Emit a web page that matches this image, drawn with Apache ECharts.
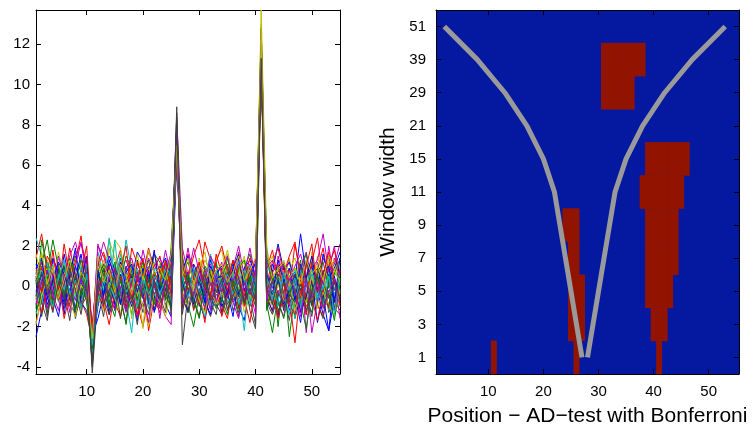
<!DOCTYPE html>
<html><head><meta charset="utf-8">
<script src="https://cdn.jsdelivr.net/npm/echarts@6/dist/echarts.min.js"></script>
<style>html,body{margin:0;padding:0;background:#fff}#c{width:753px;height:428px}</style>
</head><body><div id="c"></div>
<script>
// ---------- Left panel: traces (x = 1..55) ----------
const xTicksLeft = [10, 20, 30, 40, 50];
const yTicksLeft = [-4, -2, 0, 2, 4, 6, 8, 10, 12];
const traceColors = ['#0000ff', '#008000', '#ff0000', '#00bfbf', '#bf00bf', '#bfbf00', '#404040'];

const trace01 = [0.3,-0.8,1.2,0.5,-0.4,1.6,0.2,-1.1,0.7,0.1,-2.9, 0.6,-0.3,1.1,-1.2,0.4,0.9,-0.6,1.3,0.2,-0.9,0.5, 1.0,-0.2,0.8,7.1,0.4,-1.3,0.6,1.2,-0.5,0.3,-1.0, 0.9,0.2,-0.7,1.4,0.1,-0.4,0.8,11.6,-0.3,1.1,0.5, -1.2,0.4,0.7,-0.5,1.3,0.2,-0.8,0.6,1.5,-0.2,0.3];
const trace02 = [-0.5,0.9,-1.3,0.2,1.1,-0.7,0.4,0.8,-1.0,0.6,-2.4, 1.2,0.3,-0.9,0.5,1.4,-0.2,-1.4,0.7,1.0,-0.5,0.2, -0.8,1.3,0.1,7.4,1.5,0.2,-0.6,0.9,-1.2,0.4,1.1, -0.3,0.6,1.2,-1.1,0.3,0.8,-0.5,12.2,0.7,-0.9,0.4, 1.0,-0.6,0.2,1.3,-1.4,0.5,0.9,-0.3,0.6,-1.1,0.8];
const trace03 = [1.4,2.6,0.8,-0.3,1.0,0.2,1.9,0.5,-0.6,1.3,-2.2, 0.4,1.1,-0.5,0.9,1.8,0.3,-0.7,1.2,0.6,1.9,0.8, 1.5,0.2,1.1,6.8,0.5,1.6,0.9,0.1,2.2,1.3,0.6, -0.4,1.0,0.3,1.7,-0.8,0.6,1.4,11.2,0.9,1.8,0.4, 1.1,-0.3,2.1,0.5,1.2,-0.6,0.8,1.9,0.2,1.4,0.7];
const trace04 = [2.4,1.5,0.3,0.9,-0.2,1.2,0.6,-0.5,0.8,0.4,-3.1, 1.7,0.5,-0.3,1.1,0.2,2.3,0.8,-0.4,0.6,1.0,-0.2, 0.4,0.7,0.2,7.0,0.5,0.6,-0.1,0.8,0.3,1.5,-0.3, 0.2,0.9,0.6,1.2,0.4,-0.5,0.7,11.9,1.1,0.3,0.8, 0.5,0.9,0.1,-0.2,0.6,0.4,-0.3,0.2,0.7,-0.4,0.1];
const trace05 = [-0.2,0.5,1.0,-0.8,0.3,0.7,1.5,2.2,1.1,-0.3,-2.6, 2.1,1.0,0.2,-0.6,0.9,1.3,0.4,-0.9,0.7,1.7,1.1, 0.3,1.8,0.5,8.4,1.9,0.6,-0.4,1.2,0.8,-0.7,0.4, 1.2,-0.6,0.9,2.0,0.5,1.1,-0.2,11.4,0.6,-0.8,1.5, 0.4,1.3,-0.5,0.9,1.7,0.3,-0.9,1.4,0.8,2.0,-0.2];
const trace06 = [0.8,-0.4,1.3,0.2,1.7,0.5,-0.9,0.6,1.1,-0.2,-3.4, 0.3,0.9,2.3,1.4,-0.3,0.7,1.2,0.1,-0.6,0.8,0.5, 1.1,-0.5,0.4,7.6,0.9,0.2,-0.8,0.6,1.3,0.7,-0.3, 0.5,1.6,-0.2,0.8,1.2,-0.7,0.3,13.7,1.9,0.4,1.0, -0.6,0.8,1.4,0.2,-0.4,1.1,0.6,-0.9,1.3,0.5,0.9];
const trace07 = [-0.9,0.2,-1.5,0.6,-0.3,-1.1,0.4,-1.6,-0.2,0.7,-4.3, -0.4,0.8,-1.2,0.3,-0.7,-1.8,0.5,-0.2,-1.3,0.6,-0.5, -1.1,0.3,-0.6,8.9,-2.9,-0.4,0.2,-1.0,0.5,-0.8,-1.4, 0.4,-0.9,-0.3,-1.5,0.6,-0.6,-1.9,10.8,-0.4,0.2,-1.2, -0.7,0.3,-1.6,-0.5,0.5,-1.0,-0.2,0.8,-1.3,-0.6,0.1];
const trace08 = [-2.5,-1.2,0.4,-0.6,-1.5,0.3,-0.9,-1.3,0.2,-0.7,-3.0, -1.0,0.2,-1.4,-0.5,0.6,-1.1,-0.3,-1.7,0.4,-0.8,-1.2, 0.1,-0.9,-1.5,6.5,-0.6,-1.2,0.3,-0.8,-1.6,-0.3,0.5, -1.3,-0.4,0.6,-1.0,-1.7,0.2,-0.6,12.3,-1.1,-0.3,-1.5, 0.3,-1.2,-0.5,-1.8,0.4,-0.9,-0.2,-1.4,-2.2,-0.6,0.2];
const trace09 = [0.6,1.1,2.3,0.4,-0.5,1.0,0.2,1.5,0.7,-0.2,-2.1, 0.9,-0.4,0.5,1.2,-0.8,0.3,1.0,-0.6,0.4,1.3,-0.1, 0.8,-0.7,1.9,7.2,1.3,-0.2,0.5,0.9,-0.4,0.7,1.2, -0.1,1.4,0.3,-0.5,0.9,1.6,0.2,12.0,-0.3,0.8,-2.0, 0.6,-2.5,-0.4,0.9,0.3,1.2,-0.6,0.4,1.0,-0.2,0.5];
const trace10 = [-1.8,-0.6,0.3,-1.2,0.5,-0.4,-1.0,0.2,-0.7,-1.4,-2.7, -0.3,-1.1,0.4,-0.8,-1.5,-0.2,0.6,-0.9,-2.0,-0.5,0.1, -1.0,-0.4,0.2,6.9,-0.7,0.4,-1.2,-0.3,-1.8,0.3,-0.6, -0.9,-1.6,0.1,-0.5,-1.0,0.5,-0.8,11.0,-0.4,-1.3,-0.2, -1.1,-0.6,-2.8,-0.1,-1.4,0.3,-0.9,-1.5,0.2,-0.7,-1.2];
const trace11 = [-1.4,-0.3,0.7,0.2,-0.8,0.5,-0.2,0.9,-0.6,0.3,-3.6, 0.2,-0.5,0.8,-0.2,0.4,-0.7,-2.3,0.6,-0.4,0.2,-0.9, 0.5,0.3,0.6,7.3,0.2,-0.3,0.1,-0.6,-1.5,0.4,-0.2, 0.3,-0.8,0.5,-0.1,-2.2,0.6,-0.4,11.7,-0.7,0.1,-1.0, -0.2,0.5,-1.6,0.3,-0.8,0.1,-0.5,0.6,-1.2,-0.3,-0.6];
const trace12 = [0.9,-0.1,-0.7,1.3,0.4,-0.5,0.8,1.6,2.1,1.2,-2.5, 2.0,1.5,0.6,-0.4,1.1,0.3,0.9,-0.6,0.5,1.4,0.7, -0.3,0.6,1.0,7.8,0.3,1.9,0.4,-0.5,0.8,1.1,0.2, -0.6,0.4,1.3,0.5,-0.3,0.9,0.2,11.3,1.2,0.6,-0.5, 0.7,-1.0,0.3,1.0,-2.3,0.6,1.2,-0.4,2.0,0.3,-0.7];
const trace13 = [-0.7,1.6,-0.2,0.5,1.0,-0.6,0.3,0.9,-1.2,0.4,-3.2, 0.5,-0.8,1.9,0.2,-0.3,0.7,-1.6,0.4,-2.1,0.9,0.3, 0.6,-1.1,0.3,7.5,-0.4,0.8,-0.2,1.0,-0.9,0.5,1.4, 1.8,0.3,-0.6,0.7,1.5,-0.2,0.4,12.6,0.6,-0.5,0.9, 0.2,1.4,-0.3,0.6,-0.8,1.7,0.1,-0.5,0.9,1.3,-0.4];
const trace14 = [0.4,-1.5,0.1,-0.7,0.6,-0.3,-1.7,0.5,-0.9,-0.2,-3.8, 0.7,-0.6,-1.4,0.2,-0.9,0.4,-0.4,-1.9,0.3,-0.7,-1.1, -0.5,-1.3,0.6,8.2,-1.0,0.3,-0.6,-1.5,0.1,-0.4,-0.9, -1.4,0.2,-0.8,-0.3,0.5,-1.2,-2.1,11.1,0.3,-0.6,-1.3, -0.4,-1.7,0.2,-0.9,-0.3,-1.5,0.4,-0.8,-0.2,-1.1,-1.4];
const trace15 = [1.1,0.5,-0.4,1.4,0.7,-0.9,1.2,0.3,1.6,-0.1,-2.3, 1.3,0.6,1.5,0.8,-0.2,1.0,0.4,1.7,1.2,0.5,-0.6, 0.9,1.4,0.4,6.2,0.8,1.5,0.2,1.0,-0.3,1.3,0.6, 1.0,0.4,1.1,-0.4,0.9,1.3,0.5,10.6,1.5,0.7,2.1, 0.8,1.2,0.3,2.6,0.5,1.0,-0.2,1.6,0.4,0.9,1.7];
const trace16 = [-1.1,2.3,0.8,-0.5,0.3,1.1,-0.8,0.2,1.3,0.6,-2.0, -0.6,0.1,-1.0,0.9,-0.4,-1.9,0.3,-0.7,0.8,-0.3,0.6, -0.2,0.9,-1.4,7.7,0.6,-0.9,-2.0,-0.4,0.3,-1.1,0.2, -0.8,0.5,-0.2,-1.3,0.7,-0.5,0.1,12.4,-0.9,-2.3,-0.4, -0.3,0.4,-1.1,0.2,-0.6,-1.3,0.5,-0.2,-0.9,0.3,-1.0];
const trace17 = [0.2,1.0,-0.4,1.8,-0.2,2.1,0.4,1.2,2.5,0.3,-1.9, 1.0,1.7,0.6,0.2,1.2,-0.4,1.9,1.1,0.5,0.9,1.6, 0.7,1.1,0.0,6.6,1.0,0.4,1.5,2.3,0.8,0.1,1.2, 2.0,0.8,-0.3,1.0,0.3,1.4,0.9,11.8,0.2,1.2,1.9, 0.6,1.5,2.2,0.4,-0.5,1.2,2.4,0.3,1.0,1.8,0.6];
const trace18 = [0.7,-0.9,0.5,1.1,-0.4,0.8,0.1,-0.7,1.0,-0.5,-2.8, 0.8,-0.2,2.4,-0.1,1.6,0.3,-0.5,0.9,-0.3,0.5,-0.4, 0.2,0.5,0.6,7.0,0.4,0.3,-0.5,0.2,-0.9,0.1,0.8, -0.5,0.3,1.0,0.8,-0.4,-0.2,0.6,11.5,0.3,-0.6,0.2, 0.4,-0.3,0.9,-0.7,0.2,0.6,-0.8,0.1,-0.4,0.7,0.3];
const trace19 = [-0.4,0.3,-1.1,0.6,-0.6,0.2,-1.3,0.7,-0.5,-0.1,-2.2, -0.9,0.4,-0.3,-1.2,0.5,-0.6,0.2,-1.5,-0.8,-0.2,0.3, -0.7,-1.5,-1.9,7.9,-0.5,-1.0,0.4,-0.3,-1.1,0.2,-0.8, 0.1,-1.1,-0.4,0.5,-0.9,-0.2,-1.4,11.9,-0.5,0.3,-0.8, -1.5,0.2,-0.6,-1.0,0.4,-2.3,-0.7,0.3,-0.4,-1.2,0.1];
const trace20 = [1.6,0.4,0.9,-0.3,0.5,1.2,-0.6,0.8,0.2,1.1,-2.9, 0.6,1.3,-0.2,2.3,1.9,0.4,0.9,-0.5,1.0,0.3,1.2, 0.5,0.9,-0.3,7.3,1.1,0.6,-0.5,1.4,0.3,0.8,-0.1, 0.7,1.8,0.4,1.0,-0.5,0.6,1.1,13.0,0.9,1.5,0.2, 1.3,0.2,-0.5,1.1,0.7,-0.2,1.5,0.4,-0.6,0.8,1.2];
const trace21 = [0.5,-0.8,-1.7,0.3,-0.5,-0.9,0.2,-1.4,-0.6,0.4,-3.5, -0.2,-1.5,0.4,-0.8,-0.1,-1.2,0.3,-0.6,-1.0,-0.3,0.2, -0.9,-0.2,-1.1,7.5,-0.6,-1.3,-0.3,0.4,-0.8,-1.5,-0.4, -0.7,0.3,-1.2,-0.6,-0.1,-1.0,0.4,11.2,-0.8,-1.4,-0.5, 0.1,-0.8,-0.3,-1.2,-0.6,0.2,-0.9,-1.6,0.3,-0.5,-0.8];
const trace22 = [-0.3,0.6,-0.9,-0.2,0.9,-1.4,0.5,1.9,-0.8,-1.2,-2.4, -1.6,-0.4,0.3,-0.9,1.2,-0.1,-1.0,0.5,-0.6,0.8,-1.3, -0.4,0.2,-1.0,6.8,-0.2,0.7,-0.9,0.3,-0.7,-1.4,0.4, -1.0,-0.3,-1.5,0.4,-0.8,0.9,-0.1,12.1,-0.6,-1.2,0.3, -0.9,-0.2,0.6,-1.3,-0.5,0.3,-1.8,-0.4,-2.2,0.5,-0.7];
const trace23 = [0.1,1.3,0.6,2.3,0.9,-0.3,1.4,0.5,-0.5,1.0,-2.6, 0.4,1.1,0.7,-0.4,0.2,1.5,0.9,0.3,1.2,-0.2,1.6, 1.2,0.4,0.9,7.6,0.7,1.2,0.2,-0.6,1.0,0.5,0.3, 0.6,1.1,-0.4,0.9,1.3,0.2,0.8,12.8,1.4,0.3,0.7, 1.1,0.5,-0.3,0.8,1.6,-0.5,0.7,1.2,-0.1,0.6,1.4];
const trace24 = [-0.6,-1.3,-0.2,-0.9,0.3,-1.6,-0.4,0.2,-1.0,-0.5,-2.3, 0.2,-0.7,-1.9,-0.3,0.5,-1.0,-0.2,-1.4,0.4,-2.2,-0.6, -1.3,0.1,-0.5,7.1,-1.1,-0.3,0.6,-0.9,-1.2,-0.4,0.2, -1.5,-0.5,0.3,-1.1,-0.6,-1.8,0.1,10.9,-1.0,-0.2,-1.6, -0.5,-0.9,-1.4,0.3,-1.0,-0.6,-1.7,-0.2,-1.1,0.4,-0.9];
const trace25 = [-0.8,0.4,1.2,-0.5,0.6,-0.2,1.0,-0.3,0.5,1.1,-3.3, -0.1,0.7,-0.6,2.3,-0.4,0.8,1.0,-0.2,0.3,-1.1,0.9, -0.6,1.0,0.5,7.4,-0.8,0.2,0.6,-0.3,0.4,1.6,0.1, 0.4,-0.2,0.7,-0.9,0.3,1.0,-0.5,11.3,0.2,-0.7,0.6, -0.4,-1.4,0.2,0.8,-0.3,-0.6,0.4,-0.9,0.5,-0.1,-0.5];
const trace26 = [0.6,1.2,0.2,-0.6,1.5,0.4,-0.2,1.0,2.2,0.5,-2.0, 1.1,2.2,1.3,0.5,-0.1,0.9,1.4,0.2,1.8,0.6,1.0, 1.4,0.8,1.6,7.0,1.2,0.5,1.9,0.7,0.3,1.5,0.9, 0.8,1.5,0.2,1.1,0.6,1.9,0.4,12.5,0.9,1.3,0.5, 1.2,0.3,1.0,1.6,0.5,0.9,1.3,2.6,0.7,1.1,2.1];
const trace27 = [-1.9,-0.5,0.4,-1.0,-0.3,0.6,-0.8,-1.5,0.1,-0.6,-3.0, -0.5,-1.2,0.2,-0.6,-1.4,0.3,-0.8,-0.1,-1.0,-2.0,-0.3, -0.8,-1.5,-0.2,6.9,-0.4,-1.0,0.3,-0.7,-1.3,-0.1,-0.9, -0.2,-1.1,-0.6,0.2,-1.3,-0.4,-0.9,12.9,-0.5,-1.0,0.1, -0.7,0.2,-1.2,-0.4,-0.8,0.5,-1.1,-0.3,-0.9,-1.5,-0.2];
const trace28 = [0.3,-0.2,0.8,-0.4,0.1,1.0,-0.7,0.5,-0.3,0.2,-3.9, 0.6,0.1,-0.5,0.9,0.3,-0.8,0.4,0.7,-0.2,0.5,-0.4, 0.2,-0.6,0.5,8.6,0.3,-0.4,0.8,0.1,-0.5,0.6,-0.3, -0.2,0.7,0.1,-0.5,0.4,0.2,-0.7,11.6,0.5,-0.1,0.6, 0.3,-0.5,0.6,-0.2,0.1,-0.9,0.4,0.2,-0.6,0.3,-0.1];
const trace29 = [0.9,1.4,-0.6,0.3,1.2,0.6,-0.4,1.0,0.2,1.5,-2.7, 0.8,-0.5,1.3,0.4,-0.9,0.7,1.1,-0.3,0.9,0.2,1.8, -0.2,0.6,1.4,7.3,0.2,-0.6,1.1,0.5,-0.8,1.0,0.4, 0.5,-0.3,0.9,1.6,-0.2,0.4,1.2,11.8,0.6,-0.4,1.3, 0.2,0.9,-0.7,1.1,0.4,1.5,-0.3,0.7,1.0,-0.8,1.4];
const trace30 = [-1.3,-0.2,0.5,-0.9,0.8,-0.5,0.2,-1.2,0.6,-0.8,-3.1, -0.2,0.9,-0.7,-1.5,0.3,-0.4,0.8,-1.1,-0.2,0.4,-0.9, 0.3,-0.5,-1.0,7.2,-0.3,0.6,-0.7,-1.6,0.2,-0.5,-1.1, -0.6,-1.4,0.3,-0.2,-0.9,0.5,-0.3,11.4,-1.2,0.4,-0.7, -1.6,-0.3,0.4,-0.8,-2.1,-0.2,0.5,-1.0,-0.4,-1.7,0.2];
const trace31 = [0.5,-0.3,1.5,0.9,-0.7,0.4,1.1,-0.2,0.6,2.0,-2.4, -0.4,0.6,1.0,-0.3,0.8,2.0,-0.5,0.3,1.4,-0.1,0.7, 0.2,1.3,-0.4,6.7,0.9,-0.2,0.5,1.2,0.0,-0.6,1.6, 0.6,-0.2,1.3,0.4,-0.5,0.9,0.3,11.6,-0.3,0.7,1.1, -0.4,0.8,0.3,-0.6,1.0,2.1,-0.3,0.6,1.7,0.2,-0.5];
const trace32 = [0.2,0.8,-0.3,-1.0,0.4,1.3,-0.4,0.3,-1.1,0.6,-2.9, -0.8,0.3,0.1,-0.6,0.9,-0.3,0.4,-1.0,0.5,-0.4,0.2, -0.3,0.2,-0.8,7.1,0.4,-0.6,0.9,0.3,-0.2,-1.0,0.5, -0.1,0.6,-0.4,0.3,0.8,-0.9,0.2,11.9,0.4,-0.3,-0.8, 0.7,-0.2,0.4,-1.0,0.1,0.8,-0.6,-0.1,0.5,-1.4,0.4];
const trace33 = [-0.9,0.3,0.8,-0.4,-1.2,0.6,0.1,-0.7,0.4,-0.3,-2.3, 0.3,-1.0,0.5,0.9,-0.3,-1.3,0.2,0.6,-0.5,-1.8,0.4, -1.6,0.4,-0.3,7.7,-0.9,0.3,-0.5,0.8,-0.2,-1.2,0.6, -0.3,0.5,-0.8,-1.6,0.2,-0.4,0.6,12.0,-0.7,0.2,-0.3, -0.8,0.5,-0.2,-1.5,0.3,-0.6,0.2,-1.1,-0.3,0.4,-1.6];
const trace34 = [0.4,1.7,0.1,1.0,-0.6,0.3,1.3,-0.4,0.7,0.2,-2.6, 1.5,0.2,0.8,-0.3,1.1,0.5,-0.4,1.6,0.3,1.8,0.6, 0.9,0.3,1.6,7.0,0.5,1.4,0.1,0.9,1.7,0.2,0.8, 1.1,0.2,0.7,1.5,0.3,0.8,1.4,12.2,1.6,0.4,0.9, 1.2,0.4,0.9,0.1,1.3,0.6,1.0,0.3,1.5,0.8,0.2];
const trace35 = [-0.5,0.7,-0.3,-1.3,0.2,-0.6,0.9,-0.2,-1.4,0.3,-4.0, 0.1,-0.9,-0.2,0.5,-1.6,0.2,-0.8,0.1,-0.5,-1.4,0.3, -0.6,0.2,-0.9,8.0,-1.4,0.4,-1.1,-0.2,0.6,-0.7,-0.3, 0.3,-1.2,-0.5,0.2,-0.8,-0.1,-1.0,11.3,-0.2,-0.9,0.4, -1.1,-0.4,-0.8,0.1,-1.2,-0.3,0.6,-0.7,-1.0,0.2,-0.6];
const traces = [trace01,trace02,trace03,trace04,trace05,trace06,trace07,trace08,trace09,trace10,trace11,trace12,trace13,trace14,
                trace15,trace16,trace17,trace18,trace19,trace20,trace21,trace22,trace23,trace24,trace25,trace26,trace27,trace28,
                trace29,trace30,trace31,trace32,trace33,trace34,trace35];

// ---------- Right panel: significance map ----------
const positions = Array.from({length: 55}, (_, i) => String(i + 1));
const windowWidths = ['1', '3', '5', '7', '9', '11', '15', '21', '29', '39', '51'];
const sigW1  = [11, 26, 41];
const sigW3  = [25, 26, 27, 40, 41, 42];
const sigW5  = [25, 26, 27, 39, 40, 41, 42, 43];
const sigW7  = [25, 26, 39, 40, 41, 42, 43, 44];
const sigW9  = [24, 25, 26, 39, 40, 41, 42, 43, 44];
const sigW11 = [38, 39, 40, 41, 42, 43, 44, 45];
const sigW15 = [39, 40, 41, 42, 43, 44, 45, 46];
const sigW21 = [];
const sigW29 = [31, 32, 33, 34, 35, 36];
const sigW39 = [31, 32, 33, 34, 35, 36, 37, 38];
const sigW51 = [];
const sigRows = [sigW1, sigW3, sigW5, sigW7, sigW9, sigW11, sigW15, sigW21, sigW29, sigW39, sigW51];
const guideLeftPos  = [27, 26, 25, 24, 23, 22, 20, 17, 13, 8, 2];
const guideRightPos = [28, 29, 30, 31, 32, 33, 35, 38, 42, 47, 53];

const heatData = [];
sigRows.forEach((row, yi) => row.forEach(p => heatData.push([p - 1, yi, 1])));
const guideLeft = guideLeftPos.map((p, yi) => [p - 1, yi]);
const guideRight = guideRightPos.map((p, yi) => [p - 1, yi]);

const FONT = 'Liberation Sans, Arial, Helvetica, sans-serif';
const lbl = {color: '#000', fontSize: 15, fontFamily: FONT};
const tickIn = {show: true, inside: true, length: 5, lineStyle: {color: '#000', width: 1}};
const axLine = {show: true, onZero: false, lineStyle: {color: '#000', width: 1}};
const every10 = (i, v) => Number(v) % 10 === 0;

const chart = echarts.init(document.getElementById('c'), null, {renderer: 'canvas'});
const leftSeries = traces.map((t, i) => ({
  type: 'line', xAxisIndex: 0, yAxisIndex: 0, showSymbol: false, symbol: 'none', silent: true,
  data: t.map((v, k) => [k + 1, v]),
  lineStyle: {width: 1, color: traceColors[i % 7]}
}));

chart.setOption({
  animation: false,
  backgroundColor: '#fff',
  grid: [
    {left: 36, top: 10, width: 304, height: 364, show: false, containLabel: false, outerBoundsMode: 'none'},
    {left: 436, top: 10, width: 303, height: 364, show: true, backgroundColor: '#0519a0', borderWidth: 0,
     containLabel: false, outerBoundsMode: 'none'}
  ],
  xAxis: [
    {gridIndex: 0, type: 'value', min: 1, max: 55, position: 'bottom', axisLine: axLine, splitLine: {show: false},
     axisTick: Object.assign({customValues: xTicksLeft}, tickIn), axisLabel: Object.assign({customValues: xTicksLeft, margin: 10}, lbl)},
    {gridIndex: 0, type: 'value', min: 1, max: 55, position: 'top', axisLine: axLine, splitLine: {show: false},
     axisTick: Object.assign({customValues: xTicksLeft}, tickIn), axisLabel: {show: false}},
    {gridIndex: 1, type: 'category', data: positions, position: 'bottom', axisLine: axLine, splitLine: {show: false},
     axisTick: Object.assign({interval: every10, alignWithLabel: true}, tickIn),
     axisLabel: Object.assign({interval: every10, margin: 10}, lbl),
     name: 'Position \u2212 AD\u2212test with Bonferroni', nameLocation: 'middle', nameGap: 32,
     nameTextStyle: {color: '#000', fontSize: 21, fontFamily: FONT}},
    {gridIndex: 1, type: 'category', data: positions, position: 'top', axisLine: axLine, splitLine: {show: false},
     axisTick: Object.assign({interval: every10, alignWithLabel: true}, tickIn), axisLabel: {show: false}}
  ],
  yAxis: [
    {gridIndex: 0, type: 'value', min: -4.35, max: 13.7, position: 'left', axisLine: axLine, splitLine: {show: false},
     axisTick: Object.assign({customValues: yTicksLeft}, tickIn), axisLabel: Object.assign({customValues: yTicksLeft, margin: 6}, lbl)},
    {gridIndex: 0, type: 'value', min: -4.35, max: 13.7, position: 'right', axisLine: axLine, splitLine: {show: false},
     axisTick: Object.assign({customValues: yTicksLeft}, tickIn), axisLabel: {show: false}},
    {gridIndex: 1, type: 'category', data: windowWidths, position: 'left', axisLine: axLine, splitLine: {show: false},
     axisTick: Object.assign({alignWithLabel: true, interval: 0}, tickIn), axisLabel: Object.assign({margin: 10, interval: 0}, lbl),
     name: 'Window width', nameLocation: 'middle', nameGap: 37, nameRotate: 90,
     nameTextStyle: {color: '#000', fontSize: 21, fontFamily: FONT}},
    {gridIndex: 1, type: 'category', data: windowWidths, position: 'right', axisLine: axLine, splitLine: {show: false},
     axisTick: Object.assign({alignWithLabel: true, interval: 0}, tickIn), axisLabel: {show: false}}
  ],
  series: leftSeries.concat([
    {type: 'heatmap', xAxisIndex: 2, yAxisIndex: 2, data: heatData, silent: true,
     itemStyle: {color: '#921400'}, emphasis: {disabled: true}},
    {type: 'line', xAxisIndex: 2, yAxisIndex: 2, data: guideLeft, symbol: 'none', silent: true,
     lineStyle: {color: '#9a9a9a', width: 5}},
    {type: 'line', xAxisIndex: 2, yAxisIndex: 2, data: guideRight, symbol: 'none', silent: true,
     lineStyle: {color: '#9a9a9a', width: 5}}
  ])
});
</script>
</body></html>
